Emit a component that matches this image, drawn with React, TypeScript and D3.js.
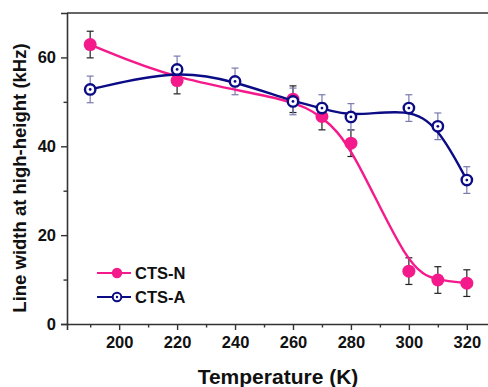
import React, { useEffect, useRef } from 'react'
import * as d3 from 'd3'

// data
const tempsN = [190, 220, 260, 270, 280, 300, 310, 320]
const widthN = [62.9, 54.8, 50.6, 46.7, 40.7, 11.9, 9.9, 9.2]
const errN = [3, 3, 3, 3, 3, 3, 3, 3]

const tempsA = [190, 220, 240, 260, 270, 280, 300, 310, 320]
const widthA = [52.8, 57.3, 54.6, 50.1, 48.6, 46.6, 48.6, 44.5, 32.4]
const errA = [3, 3, 3, 3, 3, 3, 3, 3, 3]

const xMajor = [200, 220, 240, 260, 280, 300, 320]
const xMinor = [190, 210, 230, 250, 270, 290, 310]
const yMajor = [0, 20, 40, 60]
const yMinor = [10, 30, 50]

const W = 488, H = 387
const left = 67, top = 13, bottom = 324
const pink = '#f51a8c'
const navy = '#0b0b85'
const font = 'Arial, "Liberation Sans", sans-serif'

export default function App () {
  const ref = useRef<SVGSVGElement>(null)

  useEffect(() => {
    const svg = d3.select(ref.current)
    svg.selectAll('*').remove()

    const x = d3.scaleLinear().domain([182, 328]).range([left, 490])
    const y = d3.scaleLinear().domain([0, 70]).range([bottom, top])

    // axes
    const gx = svg.append('g').attr('transform', `translate(0, ${bottom})`)
    gx.call(d3.axisBottom(x).tickValues(xMajor).tickSize(6).tickPadding(6).tickFormat(d3.format('d')))
    gx.append('g').call(d3.axisBottom(x).tickValues(xMinor).tickSize(3.5).tickFormat(() => ''))
      .call(g => g.select('.domain').remove())

    const gy = svg.append('g').attr('transform', `translate(${left}, 0)`)
    gy.call(d3.axisLeft(y).tickValues(yMajor).tickSize(6).tickPadding(5).tickFormat(d3.format('d')))
    gy.append('g').call(d3.axisLeft(y).tickValues(yMinor).tickSize(3.5).tickFormat(() => ''))
      .call(g => g.select('.domain').remove())

    svg.selectAll('.domain').attr('stroke', '#333').attr('stroke-width', 1.6)
    svg.selectAll('.tick line').attr('stroke', '#333').attr('stroke-width', 1.4)
    svg.selectAll('.tick text')
       .attr('font-family', font)
       .attr('font-weight', 'bold')
       .attr('font-size', 16.5)
       .attr('fill', '#111')

    // top frame line
    svg.append('line')
       .attr('x1', left).attr('x2', W)
       .attr('y1', top).attr('y2', top)
       .attr('stroke', '#333').attr('stroke-width', 1.6)

    // error bars
    const drawErr = (xs: number[], ys: number[], es: number[], color: string) => {
      const g = svg.append('g').attr('stroke', color).attr('stroke-width', 1.2)
      xs.forEach((t, i) => {
        const cx = x(t), y1 = y(ys[i] + es[i]), y2 = y(ys[i] - es[i])
        g.append('line').attr('x1', cx).attr('x2', cx).attr('y1', y1).attr('y2', y2)
        g.append('line').attr('x1', cx - 3.5).attr('x2', cx + 3.5).attr('y1', y1).attr('y2', y1)
        g.append('line').attr('x1', cx - 3.5).attr('x2', cx + 3.5).attr('y1', y2).attr('y2', y2)
      })
    }
    drawErr(tempsN, widthN, errN, '#222')
    drawErr(tempsA, widthA, errA, '#7a7ab0')

    const line = d3.line<[number, number]>()
                   .x(d => x(d[0]))
                   .y(d => y(d[1]))
                   .curve(d3.curveBasis)

    // CTS-N
    svg.append('path')
       .attr('d', line(tempsN.map((t, i) => [t, widthN[i]])))
       .attr('fill', 'none').attr('stroke', pink).attr('stroke-width', 2.4)
    svg.append('g').selectAll('circle')
       .data(tempsN).enter()
       .append('circle')
       .attr('cx', d => x(d))
       .attr('cy', (d, i) => y(widthN[i]))
       .attr('r', 6.5)
       .attr('fill', pink)

    // CTS-A
    svg.append('path')
       .attr('d', line(tempsA.map((t, i) => [t, widthA[i]])))
       .attr('fill', 'none').attr('stroke', navy).attr('stroke-width', 2.4)
    const ga = svg.append('g').selectAll('g')
                  .data(tempsA).enter()
                  .append('g')
                  .attr('transform', (d, i) => `translate(${x(d)}, ${y(widthA[i])})`)
    ga.append('circle').attr('r', 5.2).attr('fill', '#fff').attr('stroke', navy).attr('stroke-width', 2.4)
    ga.append('circle').attr('r', 1.4).attr('fill', navy)

    // legend
    const legend = svg.append('g').attr('font-family', font).attr('font-weight', 'bold').attr('font-size', 16.5)
    const rows = [{ name: 'CTS-N', color: pink, y: 273 }, { name: 'CTS-A', color: navy, y: 297 }]
    rows.forEach((r, i) => {
      legend.append('line').attr('x1', 97).attr('x2', 131).attr('y1', r.y).attr('y2', r.y)
            .attr('stroke', r.color).attr('stroke-width', 2.2)
      if (i === 0) {
        legend.append('circle').attr('cx', 117).attr('cy', r.y).attr('r', 5.2).attr('fill', pink)
      } else {
        legend.append('circle').attr('cx', 117).attr('cy', r.y).attr('r', 4.3)
              .attr('fill', '#fff').attr('stroke', navy).attr('stroke-width', 2)
        legend.append('circle').attr('cx', 117).attr('cy', r.y).attr('r', 1.2).attr('fill', navy)
      }
      legend.append('text').attr('x', 135).attr('y', r.y + 6).attr('fill', '#111').text(r.name)
    })

    // axis titles
    svg.append('text')
       .attr('x', 278).attr('y', 384)
       .attr('text-anchor', 'middle')
       .attr('font-family', font).attr('font-weight', 'bold').attr('font-size', 21)
       .attr('fill', '#111')
       .text('Temperature (K)')

    svg.append('text')
       .attr('transform', 'translate(26, 178) rotate(-90)')
       .attr('text-anchor', 'middle')
       .attr('font-family', font).attr('font-weight', 'bold').attr('font-size', 18.5)
       .attr('fill', '#111')
       .text('Line width at high-height (kHz)')
  }, [])

  return (
    <svg ref={ref} width={W} height={H}
         style={{ position: 'absolute', left: 0, top: 0, background: '#fff' }} />
  )
}
